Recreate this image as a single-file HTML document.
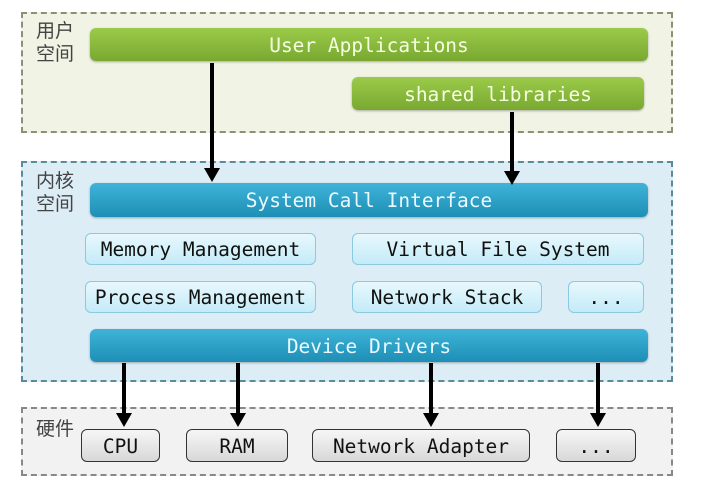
<!DOCTYPE html>
<html><head><meta charset="utf-8"><style>
body{margin:0;width:724px;height:491px;background:#fff;position:relative;overflow:hidden;font-family:"DejaVu Sans Mono","Liberation Mono",monospace;}
div{position:absolute;box-sizing:border-box;}
.zone{border:2px dashed #8a8a70;}
.lbl{font-family:"Liberation Sans","Noto Sans CJK SC",sans-serif;font-size:19px;line-height:23px;color:#444;}
.g{background:linear-gradient(#9ccb4a,#78a830);border-radius:6px;color:#f4ffe0;font-size:19.5px;text-align:center;box-shadow:0 1px 2px rgba(0,0,0,.3);}
.b{background:linear-gradient(#3fb3d8,#1e8fb6);border-radius:6px;color:#eaf8ff;font-size:19.5px;text-align:center;box-shadow:0 1px 2px rgba(0,0,0,.3);}
.lb{background:linear-gradient(#e8f8fd,#c4ebf8);border:1px solid #8cc8de;border-radius:6px;color:#111;font-size:19.5px;text-align:center;}
.h{background:linear-gradient(#f6f6f6,#d8d8d8);border:1px solid #333;border-radius:6px;color:#111;font-size:19.5px;text-align:center;}
.v{background:#000;width:4px;}
.ah{width:0;height:0;border-left:8px solid transparent;border-right:8px solid transparent;border-top:14px solid #000;}
</style></head><body>
<div class="zone" style="left:21px;top:12px;width:652px;height:121px;background:#f1f3e4;border-color:#8f8f78"></div>
<div class="zone" style="left:21px;top:161px;width:652px;height:221px;background:#dcedf6;border-color:#5b8a9a"></div>
<div class="zone" style="left:21px;top:407px;width:652px;height:69px;background:#f2f2f2;border-color:#888"></div>
<div class="lbl" style="left:36px;top:20px">用户<br>空间</div>
<div class="lbl" style="left:36px;top:170px">内核<br>空间</div>
<div class="lbl" style="left:36px;top:418px">硬件</div>

<div class="g" style="left:90px;top:28px;width:558px;height:33px;line-height:35px">User Applications</div>
<div class="g" style="left:352px;top:77px;width:292px;height:33px;line-height:35px">shared libraries</div>

<div class="b" style="left:90px;top:183px;width:558px;height:34px;line-height:36px">System Call Interface</div>
<div class="lb" style="left:85px;top:233px;width:231px;height:32px;line-height:32px">Memory Management</div>
<div class="lb" style="left:352px;top:233px;width:292px;height:32px;line-height:32px">Virtual File System</div>
<div class="lb" style="left:85px;top:281px;width:231px;height:32px;line-height:32px">Process Management</div>
<div class="lb" style="left:352px;top:281px;width:190px;height:32px;line-height:32px">Network Stack</div>
<div class="lb" style="left:568px;top:281px;width:76px;height:32px;line-height:32px">...</div>
<div class="b" style="left:90px;top:329px;width:558px;height:33px;line-height:35px">Device Drivers</div>

<div class="h" style="left:81px;top:429px;width:79px;height:33px;line-height:33px">CPU</div>
<div class="h" style="left:186px;top:429px;width:102px;height:33px;line-height:33px">RAM</div>
<div class="h" style="left:312px;top:429px;width:218px;height:33px;line-height:33px">Network Adapter</div>
<div class="h" style="left:556px;top:429px;width:80px;height:33px;line-height:33px">...</div>

<div class="v" style="left:210px;top:63px;height:106px"></div><div class="ah" style="left:204px;top:168px"></div>
<div class="v" style="left:510px;top:112px;height:60px"></div><div class="ah" style="left:504px;top:171px"></div>
<div class="v" style="left:122px;top:363px;height:52px"></div><div class="ah" style="left:116px;top:413px"></div>
<div class="v" style="left:236px;top:363px;height:52px"></div><div class="ah" style="left:230px;top:413px"></div>
<div class="v" style="left:429px;top:363px;height:52px"></div><div class="ah" style="left:423px;top:413px"></div>
<div class="v" style="left:596px;top:363px;height:52px"></div><div class="ah" style="left:590px;top:413px"></div>
</body></html>
